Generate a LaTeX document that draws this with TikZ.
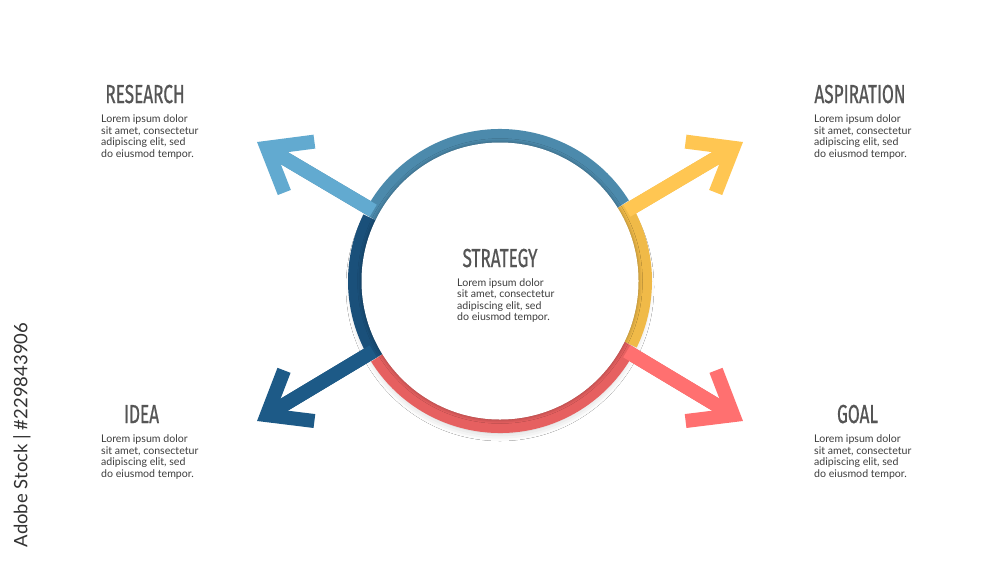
\documentclass[tikz,border=0pt]{standalone}
\usepackage{fontspec}
\usepackage{graphicx}
\usetikzlibrary{calc,shadows.blur}
\setmainfont{Lato}
\newfontfamily\titlefont[FakeBold=0.9]{Fira Sans}
\newfontfamily\bodyfont{Lato}
\definecolor{cULa}{RGB}{98,170,208}
\definecolor{cULr}{RGB}{76,138,172}
\definecolor{cURa}{RGB}{255,198,82}
\definecolor{cURr}{RGB}{240,186,72}
\definecolor{cLRa}{RGB}{255,112,112}
\definecolor{cLRr}{RGB}{230,96,96}
\definecolor{cLLa}{RGB}{29,90,135}
\definecolor{cLLr}{RGB}{26,80,122}
\definecolor{ttlgray}{RGB}{85,85,85}
\definecolor{bodygray}{RGB}{62,62,62}
\definecolor{wmgray}{RGB}{50,50,50}
\newcommand\ttl[1]{\scalebox{0.66}[1]{\titlefont\fontsize{26}{26}\selectfont #1}}
\newcommand\loremtext{\vtop{\bodyfont\fontsize{10.6}{11.5}\selectfont\baselineskip=11.5pt
  \hbox{Lorem ipsum dolor}\hbox{sit amet, consectetur}\hbox{adipiscing elit, sed}\hbox{do eiusmod tempor.}}}
\begin{document}
\begin{tikzpicture}[x=1pt,y=-1pt,
  band/.style={line width=14pt, line join=miter, line cap=butt},
  ttlnode/.style={anchor=base, inner sep=0pt, text=ttlgray},
  bodynode/.style={anchor=base west, inner sep=0pt, text=bodygray}]
\useasboundingbox (0,0) rectangle (1000,563);
\fill[white] (0,0) rectangle (1000,563);
\coordinate (c) at (500,281);
% tips
\coordinate (tUL) at (257,142);
\coordinate (tUR) at (743,142);
\coordinate (tLL) at (257,421);
\coordinate (tLR) at (743,421);
% junctions on ring
\coordinate (jUL) at ($(c)+(209:145)$);
\coordinate (jUR) at ($(c)+(331:145)$);
\coordinate (jLR) at ($(c)+(29:145)$);
\coordinate (jLL) at ($(c)+(151:145)$);
% arrow vertices and arms
\foreach \k in {UL,UR,LR,LL}{
  \coordinate (v\k) at ($(t\k)!11.4pt!(j\k)$);
  \coordinate (a\k1) at ($(v\k)!48pt!38:(j\k)$);
  \coordinate (a\k2) at ($(v\k)!48pt!-38:(j\k)$);
}
% ring shadow
\path[blur shadow={shadow xshift=0pt, shadow yshift=-6pt, shadow blur radius=8pt, shadow opacity=22}] (c) circle[radius=146];
% bands
\draw[band, cURr] ($(c)+(386:145)$) arc[start angle=386, end angle=331, radius=145] -- (vUR);
\draw[band, cLRr] ($(c)+(148:145)$) arc[start angle=148, end angle=29, radius=145] -- (vLR);
\draw[band, cLLr] ($(c)+(206:145)$) arc[start angle=206, end angle=151, radius=145] -- (vLL);
\draw[band, cULr] ($(c)+(328:145)$) arc[start angle=328, end angle=209, radius=145] -- (vUL);
% arrows
\draw[band, cULa] (jUL) -- (vUL);
\draw[band, cULa] (aUL1) -- (vUL) -- (aUL2);
\draw[band, cURa] (jUR) -- (vUR);
\draw[band, cURa] (aUR1) -- (vUR) -- (aUR2);
\draw[band, cLRa] (jLR) -- (vLR);
\draw[band, cLRa] (aLR1) -- (vLR) -- (aLR2);
\draw[band, cLLa] (jLL) -- (vLL);
\draw[band, cLLa] (aLL1) -- (vLL) -- (aLL2);
% inner disc
\fill[white, blur shadow={shadow xshift=0pt, shadow yshift=0pt, shadow blur radius=4pt, shadow opacity=35}] (c) circle[radius=138.5];
% texts
\node[ttlnode] (tres) at (145,103) {\ttl{RESEARCH}};
\node[bodynode] (bres) at (101,122.5) {\loremtext};
\node[ttlnode] (tasp) at (860,103) {\ttl{ASPIRATION}};
\node[bodynode] (basp) at (814,122.5) {\loremtext};
\node[ttlnode] (tidea) at (141.5,423) {\ttl{IDEA}};
\node[bodynode] (bidea) at (101,442.5) {\loremtext};
\node[ttlnode] (tgoal) at (857.5,423) {\ttl{GOAL}};
\node[bodynode] (bgoal) at (814,442.5) {\loremtext};
\node[ttlnode] (tstr) at (500,267) {\ttl{STRATEGY}};
\node[bodynode] (bstr) at (457,286) {\loremtext};
\node[rotate=90, inner sep=0pt, text=wmgray, font=\bodyfont\fontsize{18.5}{18.5}\selectfont] (wm) at (22,435) {Adobe Stock | \#229843906};
\end{tikzpicture}
\end{document}
